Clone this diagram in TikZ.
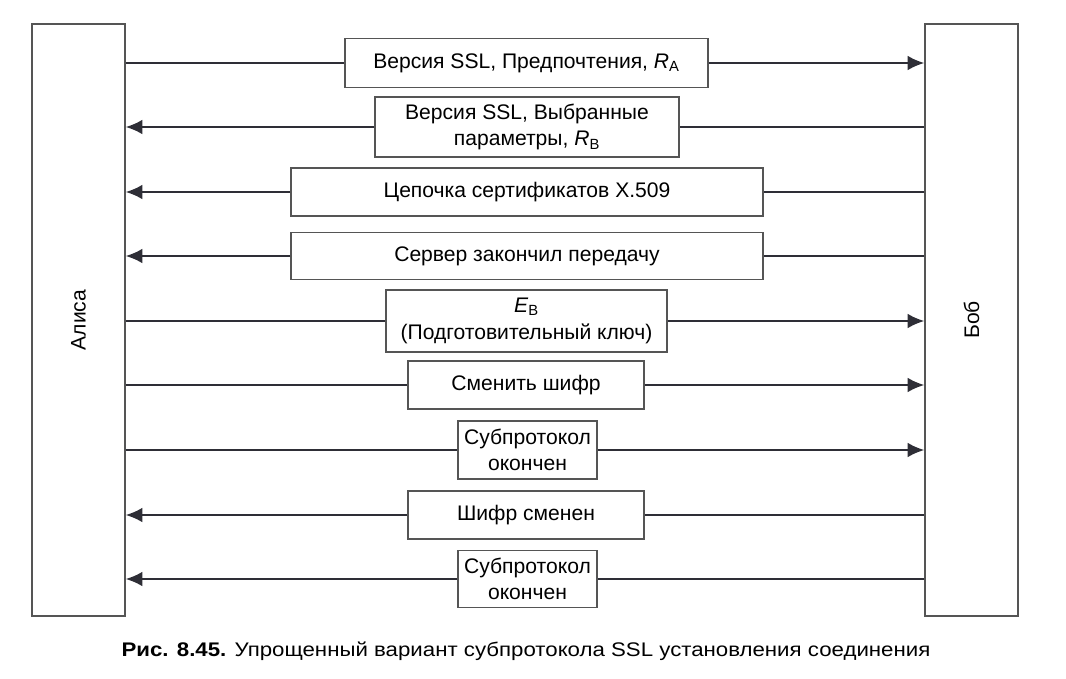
\documentclass[tikz,border=0pt]{standalone}
\usepackage{fontspec}
\setmainfont{Liberation Sans}
\usetikzlibrary{arrows.meta}
\newcommand{\pxu}{0.025cm}
\definecolor{boxgray}{HTML}{555555}
\definecolor{linegray}{HTML}{2E2E36}

\begin{document}
\begin{tikzpicture}[x=0.025cm, y=-0.025cm]

    % Stijlen
    \tikzset{
        party/.style={draw=boxgray, line width=0.9pt, fill=white, inner sep=0pt,
            minimum width=93*\pxu, minimum height=592*\pxu},
        msgbox/.style={draw=boxgray, line width=0.9pt, fill=white, inner sep=0pt,
            align=center, font=\fontsize{15}{19}\selectfont},
        msg/.style={linegray, line width=1.5pt},
        msgarrow/.style={msg, -{Latex[length=0.42cm, width=0.37cm]}}
    }

    \useasboundingbox (0,0) rectangle (1066,678);

    % --- ALICE EN BOB ---
    \node[party] (alice) at (78.5,320) {};
    \node[party] (bob) at (971.5,320) {};
    \node[rotate=90, font=\fontsize{15}{18}\selectfont] (alicelabel) at (alice) {Алиса};
    \node[rotate=90, font=\fontsize{15}{18}\selectfont] (boblabel) at (bob) {Боб};

    % --- BERICHTEN ---
    \node[msgbox, minimum width=363*\pxu, minimum height=49*\pxu] (m1) at (526.5,63)
        {Версия SSL, Предпочтения, \textit{R}\textsubscript{A}};
    \node[msgbox, minimum width=304*\pxu, minimum height=60*\pxu] (m2) at (527,127)
        {Версия SSL, Выбранные\\параметры, \textit{R}\textsubscript{B}};
    \node[msgbox, minimum width=472*\pxu, minimum height=48*\pxu] (m3) at (527,192)
        {Цепочка сертификатов X.509};
    \node[msgbox, minimum width=472*\pxu, minimum height=47*\pxu] (m4) at (527,256)
        {Сервер закончил передачу};
    \node[msgbox, minimum width=281*\pxu, minimum height=62*\pxu] (m5) at (526.5,321)
        {\textit{E}\textsubscript{B}\\(Подготовительный ключ)};
    \node[msgbox, minimum width=236*\pxu, minimum height=48*\pxu] (m6) at (526,385)
        {Сменить шифр};
    \node[msgbox, minimum width=139*\pxu, minimum height=58*\pxu] (m7) at (527.5,450)
        {Субпротокол\\окончен};
    \node[msgbox, minimum width=236*\pxu, minimum height=48*\pxu] (m8) at (526,515)
        {Шифр сменен};
    \node[msgbox, minimum width=139*\pxu, minimum height=57*\pxu] (m9) at (527.5,579)
        {Субпротокол\\окончен};

    % --- PIJLEN ---
    % Van Alice naar Bob
    \foreach \m in {m1, m5, m6, m7} {
        \draw[msg] (alice.east |- \m) -- (\m.west);
        \draw[msgarrow] (\m.east) -- (bob.west |- \m);
    }
    % Van Bob naar Alice
    \foreach \m in {m2, m3, m4, m8, m9} {
        \draw[msg] (bob.west |- \m) -- (\m.east);
        \draw[msgarrow] (\m.west) -- (alice.east |- \m);
    }

    % --- ONDERSCHRIFT ---
    \node[font=\fontsize{14}{17}\selectfont] (caption) at (526,651)
        {\scalebox{1.13}[1]{\textbf{Рис. 8.45.} Упрощенный вариант субпротокола SSL установления соединения}};

\end{tikzpicture}
\end{document}
